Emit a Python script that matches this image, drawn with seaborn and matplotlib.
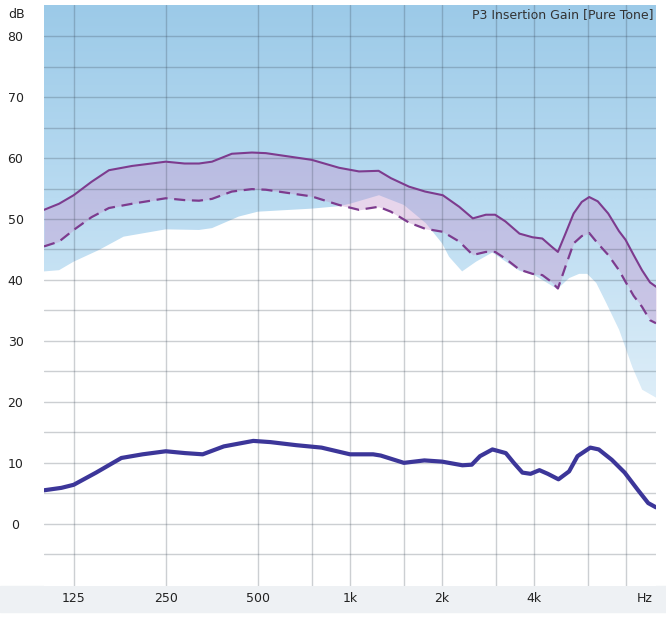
import numpy as np
import matplotlib
matplotlib.use("Agg")
import matplotlib.pyplot as plt
from matplotlib.colors import LinearSegmentedColormap
from matplotlib.patches import Rectangle
from matplotlib.ticker import NullLocator
import seaborn as sns

# target band (solid = upper, dashed = lower)
target_freq = [100, 112, 125, 143, 163, 194, 250, 288, 321, 354, 411, 478, 531, 750, 921,
               1070, 1240, 1360, 1560, 1760, 2010, 2275, 2520, 2780, 2980, 3220, 3580,
               3950, 4250, 4550, 4780, 5060, 5380, 5720, 6050, 6450, 6980, 7570, 7950,
               8450, 9000, 9560, 10000]
upper_db = [51.5, 52.5, 53.9, 56.1, 58.0, 58.7, 59.4, 59.1, 59.1, 59.4, 60.7, 60.9, 60.8, 59.7, 58.4,
            57.8, 57.9, 56.7, 55.3, 54.5, 53.9, 52.0, 50.1, 50.7, 50.7, 49.6, 47.6,
            47.0, 46.8, 45.5, 44.6, 47.6, 50.9, 52.8, 53.6, 52.9, 50.9, 48.0, 46.6,
            44.1, 41.6, 39.6, 38.9]
lower_db = [45.5, 46.3, 48.2, 50.3, 51.8, 52.5, 53.4, 53.1, 53.0, 53.3, 54.5, 54.9, 54.8, 53.7, 52.3,
            51.5, 52.0, 51.2, 49.4, 48.4, 47.9, 46.3, 44.1, 44.6, 44.6, 43.5, 41.7,
            41.0, 40.8, 39.7, 38.6, 42.2, 46.0, 47.2, 47.7, 46.0, 44.1, 41.6, 39.7,
            37.4, 35.6, 33.4, 32.9]

# lower edge of the blue area
floor_freq = [100, 112, 125, 151, 182, 250, 321, 354, 433, 500, 750, 921, 1000, 1244, 1500,
              1770, 2000, 2108, 2325, 2583, 2918, 3577, 4000, 4763, 5200, 5610, 5960, 6380,
              6880, 7580, 8370, 9010, 10000]
floor_db = [41.4, 41.6, 43.0, 44.9, 47.1, 48.3, 48.2, 48.5, 50.4, 51.2, 51.7, 52.1, 52.5, 53.9, 52.3,
            49.3, 46.0, 43.8, 41.4, 43.0, 44.5, 41.5, 40.8, 38.5, 40.3, 41.0, 41.0, 39.5,
            36.2, 31.8, 25.7, 22.0, 20.7]

# measured curve (thick blue)
measured_freq = [100, 114, 125, 148, 179, 210, 250, 289, 330, 387, 483, 550, 667, 807, 1000,
                 1190, 1260, 1500, 1750, 2000, 2330, 2500, 2660, 2920, 3230, 3430, 3660,
                 3890, 4160, 4430, 4800, 5200, 5540, 6100, 6500, 7170, 7900, 8710, 9430, 10000]
measured_db = [5.5, 5.9, 6.4, 8.4, 10.8, 11.4, 11.9, 11.6, 11.4, 12.7, 13.6, 13.4, 12.9, 12.5, 11.4,
               11.4, 11.2, 10.0, 10.4, 10.2, 9.6, 9.7, 11.1, 12.2, 11.6, 10.0, 8.4,
               8.2, 8.8, 8.2, 7.3, 8.6, 11.1, 12.5, 12.2, 10.5, 8.4, 5.6, 3.4, 2.7]

grid_freq = [125, 250, 500, 750, 1000, 1500, 2000, 3000, 4000, 6000, 8000]
tick_freq = [125, 250, 500, 1000, 2000, 4000, 9200]
tick_labels = ["125", "250", "500", "1k", "2k", "4k", "Hz"]
db_grid = list(range(-5, 85, 5))
db_ticks = list(range(0, 81, 10))

sns.set_style("white")
plt.rcParams["font.family"] = ["DejaVu Sans"]

fig = plt.figure(figsize=(6.66, 6.17), dpi=100)
fig.patches.append(Rectangle((0, 5 / 617), 1, 26 / 617, transform=fig.transFigure,
                             color="#eef1f4", zorder=-1))
ax = fig.add_axes([44 / 666, 31 / 617, 612 / 666, 581 / 617])
ax.set_xscale("log")

# blue gradient above the floor
region = ax.fill_between(floor_freq, floor_db, 90, color="none", lw=0)
grad = np.linspace(0, 1, 256).reshape(-1, 1)
cmap = LinearSegmentedColormap.from_list("bg", ["#f2f8fc", "#dcedf8", "#b9dbf1", "#9ccae8"])
img = ax.imshow(grad, cmap=cmap, origin="lower", aspect="auto",
                extent=[100, 10000, -10.2, 85.1], zorder=1, interpolation="bilinear")
img.set_clip_path(region.get_paths()[0], transform=ax.transData)

ax.fill_between(target_freq, lower_db, upper_db, color="#c596cf", alpha=0.4, lw=0, zorder=2)

for f in grid_freq:
    ax.axvline(f, color="#34404f", alpha=0.25, lw=1, zorder=2.5)
for d in db_grid:
    ax.axhline(d, color="#34404f", alpha=0.25, lw=1, zorder=2.5)

sns.lineplot(x=target_freq, y=upper_db, ax=ax, color="#7d3b8e", lw=1.5, zorder=3)
sns.lineplot(x=target_freq, y=lower_db, ax=ax, color="#7d3b8e", lw=1.6,
             linestyle=(0, (5, 3)), zorder=3)
sns.lineplot(x=measured_freq, y=measured_db, ax=ax, color="#3c3699", lw=3, zorder=3)

ax.set_xlim(100, 10000)
ax.set_ylim(-10.2, 85.1)
ax.xaxis.set_minor_locator(NullLocator())
ax.set_xticks(tick_freq)
ax.set_xticklabels(tick_labels)
ax.set_yticks(db_ticks)
ax.set_yticklabels([str(d) for d in db_ticks])
ax.tick_params(axis="x", length=0, pad=4, labelsize=9, labelcolor="#222222")
ax.tick_params(axis="y", length=0, pad=20.5, labelsize=9, labelcolor="#222222")
for lbl in ax.get_yticklabels():
    lbl.set_horizontalalignment("center")
for s in ax.spines.values():
    s.set_visible(False)

fig.text(16.5 / 666, 1 - 15 / 617, "dB", ha="center", va="center", fontsize=9, color="#222222")
ax.text(0.996, 0.995, "P3 Insertion Gain [Pure Tone]", transform=ax.transAxes,
        ha="right", va="top", fontsize=9, color="#333333", zorder=4)

fig.savefig("out.png", dpi=100)
